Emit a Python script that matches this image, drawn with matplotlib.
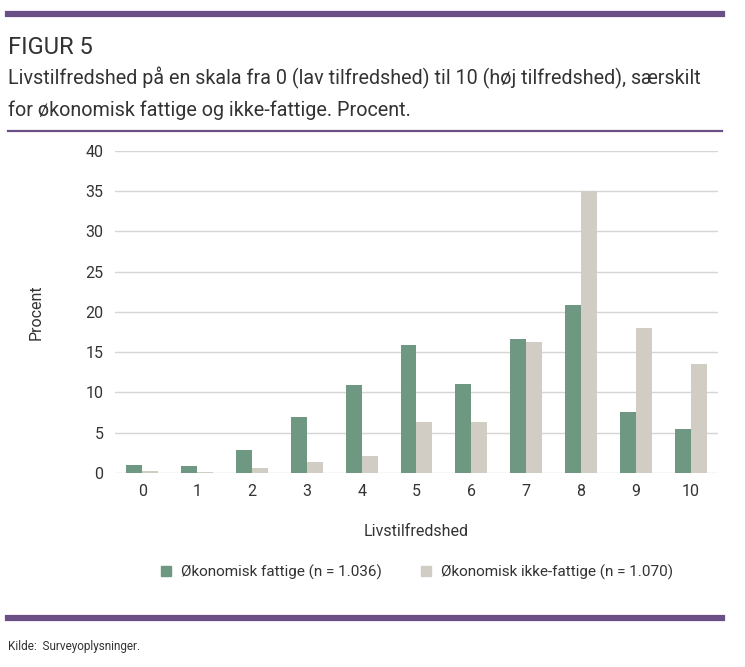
import numpy as np
import matplotlib.pyplot as plt
from matplotlib.lines import Line2D

# Data
scores = ['0', '1', '2', '3', '4', '5', '6', '7', '8', '9', '10']
fattige = [1.0, 0.85, 2.9, 6.9, 10.9, 15.9, 11.0, 16.6, 20.8, 7.6, 5.4]
ikke_fattige = [0.25, 0.1, 0.65, 1.4, 2.1, 6.3, 6.3, 16.3, 35.0, 18.0, 13.5]
label_fattige = 'Økonomisk fattige (n = 1.036)'
label_ikke = 'Økonomisk ikke-fattige (n = 1.070)'
yticks = [0, 5, 10, 15, 20, 25, 30, 35, 40]

green = '#6f9882'
grey = '#d1ccc4'
purple = '#6b5088'
txt = '#333333'

plt.rcParams['font.family'] = ['Roboto', 'DejaVu Sans']

fig = plt.figure(figsize=(7.45, 6.67), dpi=100)
ax = fig.add_axes([0.154, 0.291, 0.81, 0.483])

x = np.arange(len(scores))
w = 0.29
ax.bar(x - w / 2, fattige, w, color=green, zorder=3)
ax.bar(x + w / 2, ikke_fattige, w, color=grey, zorder=3)

ax.set_xlim(-0.5, 10.5)
ax.set_ylim(0, 40)
ax.set_yticks(yticks)
ax.set_xticks(x)
ax.set_xticklabels(scores)
ax.tick_params(axis='both', length=0, labelsize=11.5, colors=txt, pad=8)
ax.grid(axis='y', color='#d5d5d5', linewidth=1, zorder=0)
for s in ax.spines.values():
    s.set_visible(False)
ax.set_ylabel('Procent', fontsize=11.5, color=txt, labelpad=30)
ax.set_xlabel('Livstilfredshed', fontsize=11.5, color=txt, labelpad=18)

# legend
handles = [Line2D([], [], marker='s', linestyle='', color=green, markersize=7),
           Line2D([], [], marker='s', linestyle='', color=grey, markersize=7)]
fig.legend(handles, [label_fattige, label_ikke], loc='center', ncol=2,
           bbox_to_anchor=(0.553, 0.142), frameon=False, fontsize=11,
           handletextpad=0.0, columnspacing=1.9, labelcolor=txt)

# purple rules
fig.add_artist(Line2D([0.011, 0.969], [0.979, 0.979], color=purple, linewidth=4.5))
fig.add_artist(Line2D([0.011, 0.969], [0.804, 0.804], color=purple, linewidth=1.6))
fig.add_artist(Line2D([0.011, 0.969], [0.073, 0.073], color=purple, linewidth=4.5))

# header texts
fig.text(0.011, 0.929, 'FIGUR 5', fontsize=17, color=txt, va='center')
fig.text(0.011, 0.883, 'Livstilfredshed på en skala fra 0 (lav tilfredshed) til 10 (høj tilfredshed), særskilt',
         fontsize=14.2, color=txt, va='center')
fig.text(0.011, 0.835, 'for økonomisk fattige og ikke-fattige. Procent.',
         fontsize=14.2, color=txt, va='center')
fig.text(0.011, 0.031, 'Kilde:  Surveyoplysninger.', fontsize=8.5, color=txt, va='center')

fig.savefig('out.png', dpi=100)
